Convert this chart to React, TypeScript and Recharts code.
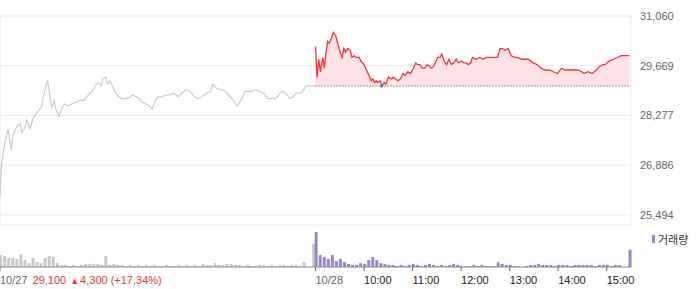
import React from "react"
import {
  Area,
  Bar,
  BarChart,
  CartesianGrid,
  Cell,
  ComposedChart,
  Line,
  ReferenceDot,
  ReferenceLine,
  XAxis,
  YAxis,
} from "recharts"

// minutes from 10/27 09:00 (day 2 starts at 390), price in won
const day1: [number, number][] = [
  [0, 26000], [2, 26950], [6, 27500], [10, 27900], [14, 27300], [16, 27700], [20, 27950],
  [25, 28050], [27, 27800], [31, 27950], [33, 28150], [37, 27900], [41, 28200], [44, 28300],
  [47, 28400], [51, 28500], [53, 28750], [56, 29000], [58, 29200], [59, 29250], [62, 28750],
  [64, 28500], [67, 28700], [69, 28450], [73, 28250], [77, 28500], [80, 28600], [84, 28550],
  [89, 28600], [94, 28650], [99, 28700], [104, 28700], [109, 28850], [114, 28950], [119, 29150],
  [122, 29200], [125, 29100], [127, 29300], [131, 29350], [133, 29150], [136, 29250], [140, 29050],
  [143, 28900], [147, 28800], [151, 28750], [156, 28750], [161, 28800], [164, 28850], [168, 28800],
  [172, 28750], [176, 28650], [180, 28600], [185, 28550], [188, 28450], [192, 28700], [195, 28800],
  [200, 28800], [205, 28850], [210, 28850], [215, 28900], [220, 28800], [225, 28900], [230, 29000],
  [235, 28950], [240, 28800], [245, 28750], [250, 28800], [255, 28900], [260, 28950], [263, 29150],
  [267, 29050], [271, 29000], [274, 29000], [279, 28950], [284, 28800], [289, 28700], [292, 28550],
  [294, 28550], [299, 28750], [303, 28950], [307, 28950], [311, 28950], [316, 29000], [321, 28950],
  [326, 28900], [331, 28750], [336, 28750], [341, 28750], [346, 28900], [350, 28950], [353, 28900],
  [358, 28750], [362, 28800], [366, 28900], [371, 28900], [374, 28950], [378, 29100], [383, 29100],
  [390, 29100],
]

const day2: [number, number][] = [
  [390, 30200], [392, 29350], [394, 29850], [396, 29500], [399, 29900], [401, 29600], [403, 30050],
  [405, 30350], [407, 30300], [409, 30400], [412, 30600], [415, 30500], [418, 30250], [421, 30000],
  [423, 29900], [425, 30150], [427, 30050], [430, 30150], [433, 30100], [435, 29900], [438, 29950],
  [440, 29900], [444, 29900], [446, 29800], [450, 29700], [453, 29550], [456, 29400], [459, 29250],
  [461, 29300], [463, 29200], [465, 29250], [467, 29200], [470, 29250], [472, 29100], [475, 29200],
  [477, 29150], [480, 29350], [484, 29300], [486, 29350], [489, 29300], [492, 29250], [495, 29300],
  [498, 29450], [501, 29400], [504, 29500], [507, 29450], [510, 29550], [514, 29750], [516, 29700],
  [519, 29700], [522, 29600], [525, 29600], [528, 29700], [531, 29650], [533, 29600], [536, 29650],
  [539, 29800], [541, 29900], [544, 29900], [546, 30000], [549, 29800], [552, 29700], [555, 29850],
  [558, 29700], [561, 29750], [564, 29850], [567, 29750], [570, 29800], [573, 29750], [576, 29750],
  [579, 29700], [582, 29750], [584, 29900], [589, 29850], [593, 29900], [597, 29850], [602, 29900],
  [607, 29900], [611, 29900], [615, 29900], [618, 30150], [621, 30150], [624, 30100], [628, 30150],
  [632, 29950], [636, 29900], [640, 29900], [645, 29850], [649, 29850], [653, 29850], [659, 29750],
  [664, 29700], [669, 29600], [674, 29550], [679, 29550], [684, 29500], [689, 29450], [694, 29600],
  [699, 29550], [704, 29550], [709, 29550], [714, 29550], [719, 29500], [722, 29450], [727, 29500],
  [732, 29450], [737, 29550], [741, 29650], [745, 29700], [748, 29700], [753, 29800], [758, 29850],
  [763, 29900], [768, 29950], [773, 29950], [778, 29950],
]

// volume per 5 minutes (thousand shares)
const day1Vol = [
  34, 31, 26, 26, 23, 37, 20, 11, 26, 14, 11, 26, 31, 29, 11, 6, 6, 3, 6, 3,
  6, 9, 9, 9, 9, 6, 31, 6, 9, 6, 6, 3, 6, 3, 6, 3, 6, 3, 6, 3,
  3, 6, 3, 3, 6, 3, 6, 3, 6, 3, 9, 6, 6, 11, 6, 6, 9, 9, 6, 6,
  3, 6, 3, 3, 6, 6, 3, 6, 3, 6, 6, 3, 6, 6, 3, 14, 0, 0,
]
const day1CloseVol = 66
const day2Vol = [
  100, 34, 29, 23, 34, 17, 23, 14, 9, 6, 6, 11, 9, 20, 29, 20, 11, 9, 6, 6,
  3, 6, 3, 6, 9, 6, 3, 6, 9, 6, 3, 6, 3, 6, 9, 6, 3, 3, 3, 6,
  3, 6, 3, 3, 3, 14, 9, 6, 6, 3, 3, 0, 3, 6, 6, 9, 6, 6, 6, 3,
  6, 6, 6, 3, 6, 6, 6, 6, 6, 3, 6, 6, 6, 3, 6, 6, 0, 0,
]
const day2CloseVol = 49

const priceTicks = [25494, 26886, 28277, 29669, 31060]
const gridTicks = [0, 60, 120, 180, 240, 300, 360, 390, 450, 510, 570, 630, 690, 750]
const volTicks = [0, 390, 450, 510, 570, 630, 690, 750]
const hourLabels: Record<number, string> = {
  450: "10:00", 510: "11:00", 570: "12:00", 630: "13:00", 690: "14:00", 750: "15:00",
}
const prevClose = 29100
const dayLow: [number, number] = [472, 29100]

const RED = "#f5333f"
const PURPLE = "#9a86c8"
const GRAY_VOL = "#c6c8cc"
const FONT = "'Liberation Sans', Arial, sans-serif"

const priceData = [
  ...day1.map(([t, p]) => ({ t, d1: p })),
  ...day2.map(([t, p]) => ({ t: t + 0.01, d2: p })),
]

const volData = [
  ...day1Vol.map((v, i) => ({ t: i * 5 + 1, v, day: 1 })),
  { t: 388, v: day1CloseVol, day: 1 },
  ...day2Vol.map((v, i) => ({ t: 391 + i * 5, v, day: 2 })),
  { t: 779, v: day2CloseVol, day: 2 },
]

function VolBar(props: any) {
  const { x, y, width, height, fill } = props
  if (!height || height <= 0) return null
  return <rect x={x + width / 2 - 1.5} y={y} width={3} height={height} fill={fill} />
}

function TimeTick(props: any) {
  const { x, y, payload } = props
  const v = payload.value
  if (v === 0) {
    return (
      <text x={x} y={y + 11} fontSize={11} fontFamily={FONT} textAnchor="start">
        <tspan fill="#666">10/27</tspan>
        <tspan fill={RED} dx={5}>29,100</tspan>
        <tspan fill={RED} dx={4} fontSize={9}>▲</tspan>
        <tspan fill={RED} dx={1}>4,300</tspan>
        <tspan fill={RED} dx={3}>(+17,34%)</tspan>
      </text>
    )
  }
  const label = v === 390 ? "10/28" : hourLabels[v]
  return (
    <text x={x} y={y + 11} fontSize={11} fontFamily={FONT} textAnchor="start"
      fill={v === 390 ? "#666" : "#222"}>
      {label}
    </text>
  )
}

export default function App() {
  return (
    <div style={{ position: "absolute", left: 0, top: 0, width: 700, height: 289, background: "#fff" }}>
      <ComposedChart width={700} height={226} data={priceData}
        margin={{ top: 16, right: 0, bottom: 1, left: 0 }}>
        <CartesianGrid stroke="#ebebeb" />
        <XAxis type="number" dataKey="t" domain={[0, 780]} ticks={gridTicks} height={0}
          tick={false} tickLine={false} axisLine={{ stroke: "#888" }} />
        <YAxis orientation="right" width={69} domain={[25214, 31060]} ticks={priceTicks}
          tickLine={false} axisLine={false} tickMargin={3}
          tick={{ fontSize: 11, fill: "#666", fontFamily: FONT }}
          tickFormatter={(v: number) => v.toLocaleString("en-US")} />
        <Area type="linear" dataKey="d2" baseValue={prevClose} stroke="none" fill="#fde3e6"
          fillOpacity={1} isAnimationActive={false} />
        <Line type="linear" dataKey="d1" stroke="#c9cbcf" strokeWidth={1.2} dot={false}
          isAnimationActive={false} />
        <Line type="linear" dataKey="d2" stroke={RED} strokeWidth={1.3} dot={false}
          isAnimationActive={false} />
        <ReferenceLine segment={[{ x: 390, y: prevClose }, { x: 780, y: prevClose }]}
          stroke="#444" strokeDasharray="1 2" />
        <ReferenceDot x={dayLow[0]} y={dayLow[1]} r={1.5} fill="#2b6fd6" stroke="none" />
      </ComposedChart>
      <BarChart width={700} height={63} data={volData}
        margin={{ top: 0, right: 69, bottom: 0, left: 0 }}>
        <XAxis type="number" dataKey="t" domain={[0, 780]} ticks={volTicks} height={22}
          tickSize={4} axisLine={{ stroke: "#888" }} tickLine={{ stroke: "#666" }}
          tick={<TimeTick />} interval={0} />
        <YAxis hide domain={[0, 117]} />
        <Bar dataKey="v" shape={<VolBar />} isAnimationActive={false}>
          {volData.map((d, i) => (
            <Cell key={`v-${i}`} fill={d.day === 1 ? GRAY_VOL : PURPLE} />
          ))}
        </Bar>
      </BarChart>
      <div style={{ position: "absolute", left: 652, top: 231, display: "flex", alignItems: "center",
        fontFamily: "'Noto Sans CJK KR', sans-serif", fontSize: 11, color: "#333" }}>
        <span style={{ display: "inline-block", width: 3, height: 8, background: PURPLE, marginRight: 3 }} />
        거래량
      </div>
    </div>
  )
}
